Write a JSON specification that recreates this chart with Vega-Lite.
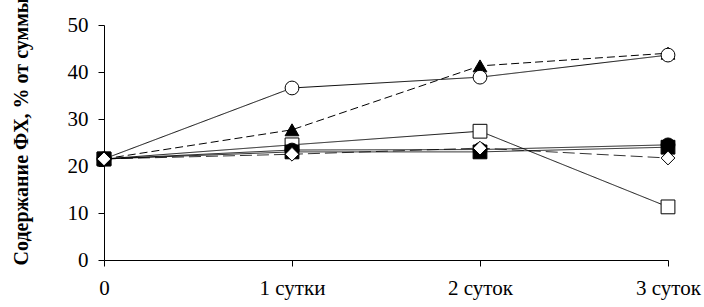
{
  "$schema": "https://vega.github.io/schema/vega-lite/v6.json",
  "width": 564,
  "height": 235,
  "autosize": "none",
  "padding": {"left": 104, "top": 25, "right": 36, "bottom": 47},
  "background": "white",
  "config": {"view": {"stroke": null}, "font": "Times New Roman"},
  "data": {"values": [
    {"t": "0", "s": "A", "v": 21.5}, {"t": "1 сутки", "s": "A", "v": 27.7}, {"t": "2 суток", "s": "A", "v": 41.3}, {"t": "3 суток", "s": "A", "v": 44.0},
    {"t": "0", "s": "B", "v": 21.5}, {"t": "1 сутки", "s": "B", "v": 36.6}, {"t": "2 суток", "s": "B", "v": 38.9}, {"t": "3 суток", "s": "B", "v": 43.6},
    {"t": "0", "s": "C", "v": 21.5}, {"t": "1 сутки", "s": "C", "v": 24.5}, {"t": "2 суток", "s": "C", "v": 27.4}, {"t": "3 суток", "s": "C", "v": 11.3},
    {"t": "0", "s": "D", "v": 21.5}, {"t": "1 сутки", "s": "D", "v": 23.4}, {"t": "2 суток", "s": "D", "v": 23.5}, {"t": "3 суток", "s": "D", "v": 24.5},
    {"t": "0", "s": "E", "v": 21.5}, {"t": "1 сутки", "s": "E", "v": 23.0}, {"t": "2 суток", "s": "E", "v": 23.0}, {"t": "3 суток", "s": "E", "v": 24.0},
    {"t": "0", "s": "F", "v": 21.5}, {"t": "1 сутки", "s": "F", "v": 22.5}, {"t": "2 суток", "s": "F", "v": 23.8}, {"t": "3 суток", "s": "F", "v": 21.7}
  ]},
  "encoding": {
    "x": {"field": "t", "type": "ordinal", "sort": ["0", "1 сутки", "2 суток", "3 суток"],
      "scale": {"type": "point", "padding": 0},
      "axis": {"title": null, "labelAngle": 0, "labelFontSize": 21, "labelColor": "black", "labelPadding": 11,
        "domainColor": "black", "tickColor": "black", "tickSize": 6, "grid": false, "labelFont": "Times New Roman"}},
    "y": {"field": "v", "type": "quantitative", "scale": {"domain": [0, 50]},
      "axis": {"title": "Содержание ФХ, % от суммы", "titleFontSize": 20, "titleFont": "Times New Roman", "titleFontWeight": "bold",
        "titleColor": "black", "titleX": -77, "titleY": 106, "titleBaseline": "alphabetic", "titleAngle": -90,
        "values": [0, 10, 20, 30, 40, 50], "labelFontSize": 21, "labelColor": "black",
        "labelPadding": 10, "domainColor": "black", "tickColor": "black", "tickSize": 6, "grid": false, "labelFont": "Times New Roman"}}
  },
  "layer": [
    {
      "mark": {"type": "line"},
      "encoding": {
        "detail": {"field": "s"},
        "color": {"value": "black"},
        "strokeDash": {"field": "s", "type": "nominal", "legend": null,
          "scale": {"domain": ["A", "B", "C", "D", "E", "F"], "range": [[8, 4], [1, 0], [1, 0], [1, 0], [1, 0], [12, 5]]}},
        "strokeWidth": {"field": "s", "type": "nominal", "legend": null,
          "scale": {"domain": ["A", "B", "C", "D", "E", "F"], "range": [1, 0.8, 0.8, 2.5, 2.5, 1]}}
      }
    },
    {
      "mark": {"type": "point", "opacity": 1, "strokeWidth": 1},
      "encoding": {
        "shape": {"field": "s", "type": "nominal", "legend": null,
          "scale": {"domain": ["A", "B", "C", "D", "E", "F"], "range": ["triangle-up", "circle", "square", "circle", "square", "diamond"]}},
        "fill": {"field": "s", "type": "nominal", "legend": null,
          "scale": {"domain": ["A", "B", "C", "D", "E", "F"], "range": ["black", "white", "white", "black", "black", "white"]}},
        "stroke": {"value": "black"},
        "size": {"value": 190}
      }
    }
  ]
}
